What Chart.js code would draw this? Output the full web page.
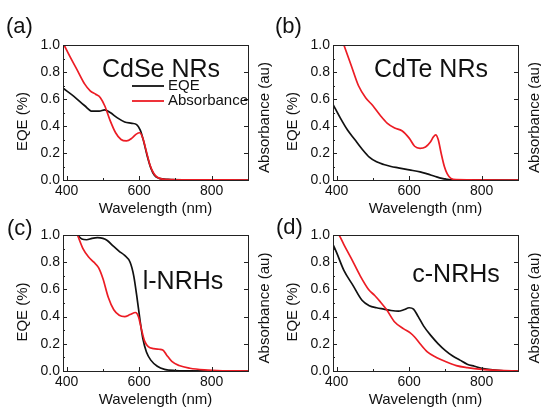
<!DOCTYPE html>
<html>
<head>
<meta charset="utf-8">
<script src="https://cdn.jsdelivr.net/npm/chart.js@4.4.0/dist/chart.umd.min.js"></script>
<style>
  html, body { margin: 0; padding: 0; background: #fff; }
  #wrap { position: relative; width: 541px; height: 412px; overflow: hidden; background: #fff; }
  #wrap canvas { position: absolute; left: 0; top: 0; }
</style>
</head>
<body>
<div id="wrap">
  <canvas id="pa" width="541" height="412"></canvas>
  <canvas id="pb" width="541" height="412"></canvas>
  <canvas id="pc" width="541" height="412"></canvas>
  <canvas id="pd" width="541" height="412"></canvas>
</div>
<script>
const xTicks = [400, 600, 800];
const yTicks = [0, 0.2, 0.4, 0.6, 0.8, 1.0];

// (a) CdSe NRs
const aEqeWl = [390, 420, 450, 470, 490, 505, 520, 540, 560, 580, 593, 603, 612, 622, 632, 642, 655, 680, 720, 900];
const aEqe = [0.68, 0.62, 0.55, 0.51, 0.51, 0.52, 0.50, 0.46, 0.43, 0.42, 0.41, 0.37, 0.29, 0.18, 0.09, 0.035, 0.012, 0.004, 0.001, 0];
const aAbsWl = [393, 410, 430, 450, 465, 480, 493, 505, 520, 535, 550, 565, 580, 592, 602, 610, 620, 630, 640, 650, 665, 700, 900];
const aAbs = [1.0, 0.91, 0.81, 0.71, 0.66, 0.635, 0.61, 0.55, 0.44, 0.35, 0.30, 0.29, 0.31, 0.34, 0.35, 0.31, 0.21, 0.11, 0.05, 0.02, 0.006, 0.002, 0];

// (b) CdTe NRs
const bEqeWl = [390, 410, 430, 450, 470, 490, 510, 530, 550, 570, 600, 630, 650, 670, 690, 710, 730, 900];
const bEqe = [0.56, 0.46, 0.37, 0.30, 0.23, 0.17, 0.135, 0.115, 0.10, 0.09, 0.075, 0.06, 0.045, 0.028, 0.012, 0.003, 0.001, 0];
const bAbsWl = [420, 440, 460, 480, 500, 520, 540, 560, 580, 600, 615, 630, 645, 658, 667, 673, 680, 688, 697, 705, 715, 730, 900];
const bAbs = [1.0, 0.85, 0.70, 0.61, 0.55, 0.48, 0.42, 0.385, 0.365, 0.31, 0.25, 0.235, 0.245, 0.28, 0.32, 0.335, 0.30, 0.20, 0.10, 0.045, 0.012, 0.003, 0];

// (c) l-NRHs
const cEqeWl = [430, 442, 455, 470, 485, 500, 512, 528, 545, 560, 575, 585, 595, 602, 610, 620, 632, 650, 670, 700, 730, 900];
const cEqe = [1.0, 0.97, 0.965, 0.975, 0.98, 0.975, 0.96, 0.92, 0.88, 0.85, 0.80, 0.70, 0.52, 0.38, 0.24, 0.14, 0.08, 0.035, 0.012, 0.003, 0.001, 0];
const cAbsWl = [430, 445, 460, 475, 488, 500, 515, 530, 545, 560, 575, 590, 598, 606, 615, 625, 640, 655, 665, 675, 690, 710, 740, 780, 830, 900];
const cAbs = [1.0, 0.90, 0.84, 0.80, 0.76, 0.68, 0.54, 0.45, 0.41, 0.40, 0.415, 0.43, 0.40, 0.31, 0.22, 0.18, 0.165, 0.16, 0.155, 0.12, 0.07, 0.04, 0.02, 0.008, 0.002, 0];

// (d) c-NRHs
const dEqeWl = [390, 400, 420, 445, 470, 490, 510, 530, 550, 570, 585, 600, 612, 625, 640, 660, 680, 700, 720, 740, 760, 780, 800, 830, 860, 900];
const dEqe = [0.93, 0.87, 0.74, 0.63, 0.52, 0.48, 0.465, 0.455, 0.445, 0.44, 0.45, 0.465, 0.455, 0.40, 0.33, 0.26, 0.20, 0.15, 0.11, 0.08, 0.05, 0.035, 0.02, 0.008, 0.002, 0];
const dAbsWl = [407, 420, 440, 465, 488, 505, 520, 538, 560, 585, 603, 615, 630, 650, 675, 700, 730, 760, 800, 850, 900];
const dAbs = [1.0, 0.93, 0.83, 0.70, 0.60, 0.555, 0.51, 0.45, 0.36, 0.31, 0.28, 0.25, 0.20, 0.14, 0.10, 0.07, 0.04, 0.025, 0.012, 0.004, 0];

const FONT = '"Liberation Sans", Arial, sans-serif';
const BLACK = '#111111';
const RED = '#ec1c24';

const panels = [
  { id: 'pa', area: [63, 45, 248, 180], letter: '(a)', letterPos: [6, 27], name: 'CdSe NRs', namePos: [161, 70],
    eqe: [aEqeWl, aEqe], abs: [aAbsWl, aAbs], legend: true },
  { id: 'pb', area: [333, 45, 518, 180], letter: '(b)', letterPos: [275, 27], name: 'CdTe NRs', namePos: [431, 70],
    eqe: [bEqeWl, bEqe], abs: [bAbsWl, bAbs] },
  { id: 'pc', area: [63, 235, 248, 371], letter: '(c)', letterPos: [7, 229], name: 'l-NRHs', namePos: [183, 282],
    eqe: [cEqeWl, cEqe], abs: [cAbsWl, cAbs] },
  { id: 'pd', area: [333, 235, 518, 371], letter: '(d)', letterPos: [276, 228], name: 'c-NRHs', namePos: [456, 275],
    eqe: [dEqeWl, dEqe], abs: [dAbsWl, dAbs] }
];

function pts(wl, vals) {
  return wl.map((w, i) => ({ x: w, y: vals[i] }));
}

// frame, inward ticks, titles and labels
function decoPlugin(p) {
  return {
    id: 'deco',
    afterDraw(chart) {
      const ctx = chart.ctx;
      const ca = chart.chartArea;
      const xs = chart.scales.x, ys = chart.scales.y;
      ctx.save();
      ctx.strokeStyle = '#222';
      ctx.lineWidth = 1;
      ctx.strokeRect(Math.round(ca.left) + 0.5, Math.round(ca.top) + 0.5,
        Math.round(ca.right - ca.left), Math.round(ca.bottom - ca.top));

      ctx.beginPath();
      for (let v = 0; v <= 1.0001; v += 0.1) {
        const y = Math.round(ys.getPixelForValue(v)) + 0.5;
        const major = Math.round(v * 10) % 2 === 0;
        ctx.moveTo(ca.left, y); ctx.lineTo(ca.left + (major ? 4 : 2), y);
        if (major) { ctx.moveTo(ca.right, y); ctx.lineTo(ca.right - 4, y); }
      }
      for (let w = 400; w <= 900; w += 100) {
        const x = Math.round(xs.getPixelForValue(w)) + 0.5;
        const major = w % 200 === 0;
        ctx.moveTo(x, ca.bottom); ctx.lineTo(x, ca.bottom - (major ? 4 : 2));
      }
      ctx.stroke();

      ctx.fillStyle = BLACK;
      ctx.textBaseline = 'middle';
      ctx.textAlign = 'center';
      const cx = (ca.left + ca.right) / 2, cy = (ca.top + ca.bottom) / 2;
      ctx.font = '15px ' + FONT;
      ctx.fillText('Wavelength (nm)', cx, ca.bottom + 29);

      ctx.save();
      ctx.translate(ca.left - 40, cy + 9);
      ctx.rotate(-Math.PI / 2);
      ctx.fillText('EQE (%)', 0, 0);
      ctx.restore();

      ctx.save();
      ctx.translate(ca.right + 17, cy + 5);
      ctx.rotate(-Math.PI / 2);
      ctx.fillText('Absorbance (au)', 0, 0);
      ctx.restore();

      ctx.font = '22px ' + FONT;
      ctx.textAlign = 'left';
      ctx.fillText(p.letter, p.letterPos[0], p.letterPos[1]);

      ctx.font = '25px ' + FONT;
      ctx.textAlign = 'center';
      ctx.fillText(p.name, p.namePos[0], p.namePos[1]);

      if (p.legend) {
        ctx.font = '15px ' + FONT;
        ctx.textAlign = 'left';
        ctx.lineWidth = 1.8;
        ctx.strokeStyle = BLACK;
        ctx.beginPath(); ctx.moveTo(132, 86); ctx.lineTo(164, 86); ctx.stroke();
        ctx.strokeStyle = RED;
        ctx.beginPath(); ctx.moveTo(132, 101); ctx.lineTo(164, 101); ctx.stroke();
        ctx.fillText('EQE', 168, 86);
        ctx.fillText('Absorbance', 168, 101);
      }
      ctx.restore();
    }
  };
}

panels.forEach(p => {
  const [l, t, r, b] = p.area;
  new Chart(document.getElementById(p.id), {
    type: 'line',
    data: {
      datasets: [
        { label: 'Absorbance', data: pts(p.abs[0], p.abs[1]), borderColor: RED, borderWidth: 1.7,
          pointRadius: 0, cubicInterpolationMode: 'monotone', fill: false },
        { label: 'EQE', data: pts(p.eqe[0], p.eqe[1]), borderColor: BLACK, borderWidth: 1.7,
          pointRadius: 0, cubicInterpolationMode: 'monotone', fill: false }
      ]
    },
    options: {
      responsive: false,
      animation: false,
      layout: { padding: { left: l - 40, top: t, right: 541 - r - 10, bottom: 412 - b - 30 } },
      plugins: { legend: { display: false }, tooltip: { enabled: false } },
      scales: {
        x: {
          type: 'linear', min: 390, max: 900,
          afterBuildTicks: s => { s.ticks = xTicks.map(v => ({ value: v })); },
          afterFit: s => { s.height = 30; },
          grid: { display: false, drawTicks: false },
          border: { display: false },
          ticks: { color: BLACK, font: { family: FONT, size: 14 }, padding: 3, maxRotation: 0, autoSkip: false }
        },
        y: {
          position: 'left', min: 0, max: 1,
          afterBuildTicks: s => { s.ticks = yTicks.map(v => ({ value: v })); },
          afterFit: s => { s.width = 40; },
          grid: { display: false, drawTicks: false },
          border: { display: false },
          ticks: { color: BLACK, font: { family: FONT, size: 14 }, padding: 3,
            callback: v => Number(v).toFixed(1) }
        },
        y2: {
          position: 'right', min: 0, max: 1,
          afterFit: s => { s.width = 10; },
          grid: { display: false, drawTicks: false },
          border: { display: false },
          ticks: { display: false }
        }
      }
    },
    plugins: [decoPlugin(p)]
  });
});
</script>
</body>
</html>
